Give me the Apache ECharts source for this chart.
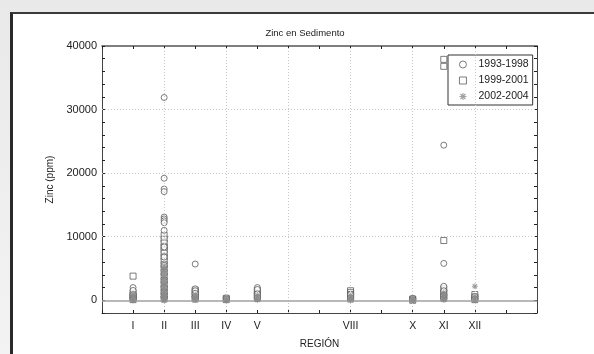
<!DOCTYPE html>
<html>
<head>
<meta charset="utf-8">
<script src="https://cdn.jsdelivr.net/npm/echarts@6/dist/echarts.min.js"></script>
<style>
html,body{margin:0;padding:0;width:594px;height:354px;overflow:hidden;background:linear-gradient(#e9e9e9,#f3f3f3);}
#panel{position:absolute;left:10px;top:12px;width:620px;height:400px;background:#fff;border-top:2px solid #3a3a3a;border-left:3px solid #2a2a2a;}
#chart{position:absolute;left:0;top:0;width:594px;height:354px;}
</style>
</head>
<body>
<div id="panel"></div>
<div id="chart"></div>
<script>
// Region positions on the x axis (ordinal number of region)
const regionNames = ['I','II','III','IV','V','VI','VII','VIII','IX','X','XI','XII'];
const shownRegions = ['I','II','III','IV','V','VIII','X','XI','XII'];
const seriesNames = ['1993-1998','1999-2001','2002-2004'];
const yTickLabels = [0, 10000, 20000, 30000, 40000];

// Zinc (ppm) values per region
const zinc_1993_1998 = {
  I: [2000, 1550, 900, 500, 200],
  II: [31900, 19200, 17500, 17100, 13100, 12800, 12500, 12200, 11000, 8400, 6800, 5500, 4200, 3000, 2000, 1200, 600],
  III: [5700, 1800, 1500, 1100, 600],
  IV: [400, 200],
  V: [2000, 1700, 1000, 400],
  VIII: [900, 400],
  X: [300, 100],
  XI: [24400, 5800, 2200, 1500, 800, 300],
  XII: [600, 200]
};
const zinc_1999_2001 = {
  I: [3800, 1200, 800, 400, 100],
  II: [10200, 9600, 9000, 8400, 7900, 7400, 6800, 6200, 5600, 5000, 4400, 3700, 3100, 2500, 1900, 1300, 700, 200],
  III: [1600, 1300, 900, 500, 200],
  IV: [300, 100],
  V: [1500, 1100, 700, 300],
  VIII: [1500, 1200, 900, 600, 200],
  X: [200, 0],
  XI: [37900, 36800, 9400, 1800, 1200, 700, 300],
  XII: [900, 500, 100]
};
const zinc_2002_2004 = {
  I: [1000, 700, 500, 300, 150, 0],
  II: [5400, 5000, 4600, 4200, 3800, 3400, 3000, 2700, 2400, 2100, 1800, 1500, 1200, 1000, 800, 600, 400, 250, 100, 0],
  III: [900, 600, 400, 200, 50],
  IV: [300, 150, 0],
  V: [800, 500, 250, 50],
  VIII: [700, 450, 250, 50],
  X: [250, 100, 0],
  XI: [1200, 900, 650, 400, 200, 50],
  XII: [2200, 600, 300, 100]
};

function toPoints(obj){
  const out = [];
  Object.keys(obj).forEach(r => {
    const x = regionNames.indexOf(r) + 1;
    obj[r].forEach(v => out.push([x, v]));
  });
  return out;
}

const FONT = 'Liberation Sans, Arial, Helvetica, sans-serif';
const INK = '#4a4a4a';
const asterisk = 'path://M4.2 0H5.8V10H4.2Z M0 4.2H10V5.8H0Z M0.8 2L2 0.8L9.2 8L8 9.2Z M8 0.8L9.2 2L2 9.2L0.8 8Z';

const chart = echarts.init(document.getElementById('chart'), null, {renderer:'canvas'});

const gridVert = [2,4,6,8,10,12].map(v => ({xAxis: v}));
const gridHorz = [10000,20000,30000].map(v => ({yAxis: v}));

chart.setOption({
  animation: false,
  backgroundColor: 'transparent',
  title: {
    text: 'Zinc en Sedimento',
    left: 300, top: 23, textAlign: 'center',
    textStyle: {fontFamily: FONT, fontSize: 9.5, fontWeight: 'normal', color: '#222'}
  },
  legend: {
    orient: 'vertical',
    left: 448, top: 55,
    data: seriesNames,
    borderColor: '#333', borderWidth: 1,
    padding: [4, 4, 3, 11],
    itemGap: 5, itemWidth: 7, itemHeight: 7,
    itemStyle: {borderWidth: 0.9},
    textStyle: {fontFamily: FONT, fontSize: 10.5, color: '#222', padding: [0,0,0,7]}
  },
  grid: {left: 102, right: 57, top: 46, bottom: 41, containLabel: false},
  xAxis: [{
    type: 'value', min: 0, max: 14, interval: 1,
    name: 'REGIÓN', nameLocation: 'middle', nameGap: 26,
    nameTextStyle: {fontFamily: FONT, fontSize: 10, color: '#222'},
    axisLine: {show: true, onZero: false, lineStyle: {color: '#444', width: 1}},
    axisTick: {show: true, inside: true, length: 3, lineStyle: {color: '#222'}},
    axisLabel: {
      margin: 8, fontFamily: FONT, fontSize: 10.5, color: '#222',
      formatter: v => {
        const n = regionNames[v - 1];
        return n && shownRegions.includes(n) ? n : '';
      }
    },
    splitLine: {show: false}
  }, {
    type: 'value', min: 0, max: 14, interval: 1, position: 'top',
    axisLine: {show: true, onZero: false, lineStyle: {color: '#555', width: 1.5}},
    axisTick: {show: true, inside: true, length: 3, lineStyle: {color: '#222'}},
    axisLabel: {show: false}, splitLine: {show: false}
  }],
  yAxis: [{
    type: 'value', min: -2000, max: 40000, interval: 2000,
    name: 'Zinc (ppm)', nameLocation: 'middle', nameGap: 40, nameRotate: 90,
    nameTextStyle: {fontFamily: FONT, fontSize: 10, color: '#222'},
    axisLine: {show: true, onZero: false, lineStyle: {color: '#444', width: 1}},
    axisTick: {show: true, inside: true, length: 3, lineStyle: {color: '#222'}},
    axisLabel: {
      margin: 5, fontFamily: FONT, fontSize: 11, color: '#222',
      formatter: v => yTickLabels.includes(v) ? String(v) : ''
    },
    splitLine: {show: false}
  }, {
    type: 'value', min: -2000, max: 40000, interval: 2000, position: 'right',
    axisLine: {show: true, onZero: false, lineStyle: {color: '#444', width: 1}},
    axisTick: {show: true, inside: true, length: 3, lineStyle: {color: '#222'}},
    axisLabel: {show: false}, splitLine: {show: false}
  }],
  series: [
    {
      name: '1993-1998', type: 'scatter', data: toPoints(zinc_1993_1998),
      symbol: 'circle', symbolSize: 6,
      itemStyle: {color: '#fff', borderColor: INK, borderWidth: 0.9},
      markLine: {
        silent: true, symbol: 'none', label: {show: false},
        lineStyle: {color: '#c8c8c8', type: [1, 2], width: 1},
        data: gridVert.concat(gridHorz)
      },
      z: 4
    },
    {
      name: '1999-2001', type: 'scatter', data: toPoints(zinc_1999_2001),
      symbol: 'rect', symbolSize: 6,
      itemStyle: {color: '#fff', borderColor: INK, borderWidth: 0.9},
      markLine: {
        silent: true, symbol: 'none', label: {show: false},
        lineStyle: {color: '#a0a0a0', type: 'solid', width: 1.6},
        data: [{yAxis: 0}]
      },
      z: 3
    },
    {
      name: '2002-2004', type: 'scatter', data: toPoints(zinc_2002_2004),
      symbol: asterisk, symbolSize: 6,
      itemStyle: {color: '#8a8a8a'},
      z: 5
    }
  ]
});
</script>
</body>
</html>
